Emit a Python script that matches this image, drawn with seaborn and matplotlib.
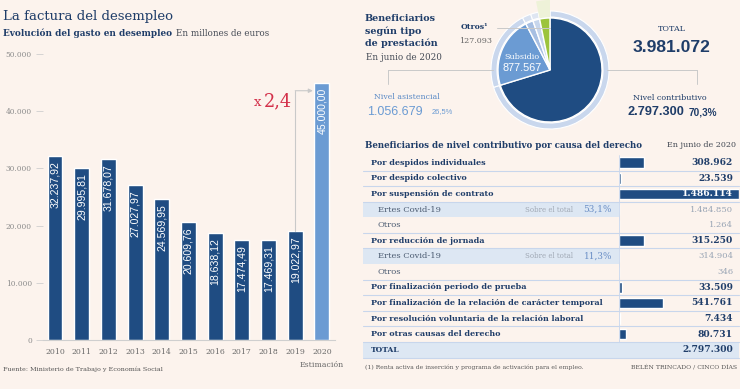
"""La factura del desempleo: gasto anual y beneficiarios por tipo de prestación."""

import numpy as np
import pandas as pd
import seaborn as sns
import matplotlib.pyplot as plt
from matplotlib.patches import Rectangle

# ===================== DATOS =====================
anios = ["2010", "2011", "2012", "2013", "2014", "2015", "2016", "2017", "2018", "2019", "2020"]
gasto = [32237.92, 29995.81, 31678.07, 27027.97, 24569.95, 20609.76,
         18638.12, 17474.49, 17469.31, 19022.97, 45000.00]
y_ticks = [0, 10000, 20000, 30000, 40000, 50000]

# tarta: contributivo, subsidio, resto asistencial (2 trozos estimados), otros
tarta_nombres = ["Nivel contributivo", "Subsidio", "Asistencial A", "Asistencial B", "Otros"]
tarta_valores = [2797300, 877567, 95000, 84112, 127093]
total_benef = 3981072
asistencial = 1056679

filas = ["Por despidos individuales", "Por despido colectivo", "Por suspensión de contrato",
         "Ertes Covid-19", "Otros", "Por reducción de jornada", "Ertes Covid-19", "Otros",
         "Por finalización periodo de prueba",
         "Por finalización de la relación de carácter temporal",
         "Por resolución voluntaria de la relación laboral",
         "Por otras causas del derecho", "TOTAL"]
valores = [308962, 23539, 1486114, 1484850, 1264, 315250, 314904, 346,
           33509, 541761, 7434, 80731, 2797300]
tipo = ["main", "main", "main", "sub", "sub2", "main", "sub", "sub2",
        "main", "main", "main", "main", "total"]
sobre_total = {3: "53,1%", 6: "11,3%"}

# ===================== ESTILO =====================
BG = "#fcf3ed"
AZUL = "#1f4c82"
AZUL_CLARO = "#6b9bd3"
TITULO = "#1f3d69"
GRIS = "#8b8b8b"
ROJO = "#d3304a"
SOMBRA = "#dde7f3"
LINEA = "#c8d6ec"
SERIF = "DejaVu Serif"
SANS = "Liberation Sans"

sns.set_theme(style="white")
plt.rcParams["font.family"] = [SERIF, "DejaVu Sans"]


def es(v, dec=0):
    s = f"{v:,.{dec}f}"
    return s.replace(",", "#").replace(".", ",").replace("#", ".")


def caja(x0, y0, x1, y1):
    """Rectángulo en píxeles -> coordenadas de figura."""
    return [x0 / 740, 1 - y1 / 389, (x1 - x0) / 740, (y1 - y0) / 389]


fig = plt.figure(figsize=(7.4, 3.89), dpi=100, facecolor=BG)

# ===================== BARRAS GASTO =====================
ax = fig.add_axes(caja(43, 54, 335, 340))
ax.set_facecolor("none")
df = pd.DataFrame({"anio": anios, "gasto": gasto})
colores = [AZUL] * 10 + [AZUL_CLARO]
sns.barplot(data=df, x="anio", y="gasto", hue="anio", palette=colores,
            legend=False, width=0.56, saturation=1, ax=ax)
ax.set_ylim(0, 50000)
ax.set_xlim(-0.45, 10.49)
ax.set_yticks(y_ticks)
ax.set_yticklabels([es(t) for t in y_ticks])
ax.set_xlabel("")
ax.set_ylabel("")
for s in ["top", "right", "left"]:
    ax.spines[s].set_visible(False)
ax.spines["bottom"].set_color("#cfcfcf")
ax.spines["bottom"].set_linewidth(0.8)
ax.tick_params(axis="y", length=5, width=0.6, color="#cfcfcf", labelsize=5.3,
               labelcolor=GRIS, pad=3, left=True)
ax.tick_params(axis="x", length=0, labelsize=5.6, labelcolor="#6b6b6b", pad=6)
for i, v in enumerate(gasto):
    ax.text(i, v - 900, es(v, 2), rotation=90, ha="center", va="top",
            color="white", fontsize=7.6, family=SANS)
ax.text(10, -4300, "Estimación", ha="center", va="center", fontsize=5.6,
        color="#6b6b6b", clip_on=False)
# flecha x2,4
y_flecha = 43580
ax.plot([9, 9], [gasto[9], y_flecha], color="#c9c9c9", lw=0.8)
ax.annotate("", xy=(9.66, y_flecha), xytext=(9, y_flecha),
            arrowprops=dict(arrowstyle="-|>", color="#c9c9c9", lw=0.8,
                            mutation_scale=6, shrinkA=0, shrinkB=0))

# ===================== TARTA =====================
axp = fig.add_axes(caja(480, 0, 620, 140))
axp.set_facecolor("none")
axp.pie(tarta_valores, radius=0.843, startangle=90, counterclock=False,
        colors=["#c9d7ed", "#c9d7ed", "#d6e0f0", "#dfe6f2", "none"],
        wedgeprops=dict(width=0.086, edgecolor="white", linewidth=0.8))
axp.pie(tarta_valores, radius=1.0, startangle=90, counterclock=False,
        colors=["none", "none", "none", "none", "#eef2d8"],
        wedgeprops=dict(width=0.25, linewidth=0))
axp.pie(tarta_valores, radius=0.743, startangle=90, counterclock=False,
        colors=[AZUL, AZUL_CLARO, "#a7bfe2", "#c7d6ec", "#9cc43c"],
        wedgeprops=dict(edgecolor="white", linewidth=1.0))
axp.set_xlim(-1, 1)
axp.set_ylim(-1, 1)
axp.set_aspect("equal")

# ===================== TABLA: BARRAS =====================
axb = fig.add_axes(caja(619, 155, 739, 357.5))
axb.set_facecolor("none")
df_t = pd.DataFrame({"fila": [str(i) for i in range(len(filas))],
                     "valor": [v if t == "main" else 0 for v, t in zip(valores, tipo)]})
sns.barplot(data=df_t, x="valor", y="fila", orient="h", color=AZUL, saturation=1,
            width=0.68, ax=axb)
axb.set_xlim(0, max(df_t["valor"]))
axb.set_ylim(len(filas) - 0.5, -0.5)
axb.axis("off")

# ===================== CAPA DE TEXTOS (encima, transparente) =====================
ov = fig.add_axes([0, 0, 1, 1], zorder=10)
ov.set_facecolor("none")
ov.set_xlim(0, 740)
ov.set_ylim(389, 0)
ov.axis("off")

# títulos
ov.text(3, 16, "La factura del desempleo", fontsize=9.5, color=TITULO, va="center")
ov.text(3, 33, "Evolución del gasto en desempleo", fontsize=6.4, color=TITULO,
        weight="bold", va="center")
ov.text(176, 33, "En millones de euros", fontsize=6.3, color="#444a55", va="center")
ov.text(3, 369, "Fuente: Ministerio de Trabajo y Economía Social", fontsize=4.6,
        color="#555555", va="center")
ov.text(292, 106, "2,4", ha="right", va="baseline", fontsize=12.8, color=ROJO)
ov.text(261, 106, "x", ha="right", va="baseline", fontsize=9.5, color=ROJO)

# bloque tarta
for j, t in enumerate(["Beneficiarios", "según tipo", "de prestación"]):
    ov.text(365, 18 + j * 12.8, t, fontsize=6.9, weight="bold", color=TITULO, va="center")
ov.text(366, 57, "En junio de 2020", fontsize=6.3, color="#444a55", va="center")
ov.text(488, 27, "Otros¹", fontsize=5.6, weight="bold", color=TITULO, va="center", ha="right")
ov.text(492, 41, es(tarta_valores[4]), fontsize=5.8, color="#666666", va="center", ha="right")
ov.plot([497, 550], [28, 28], color="#c9c9c9", lw=0.7)
ov.text(522, 57, "Subsidio", fontsize=5.8, color="white", ha="center", va="center")
ov.text(522, 68, es(tarta_valores[1]), fontsize=7.8, color="white", ha="center", va="center",
        family=SANS)
ov.plot([388, 493], [70, 70], color="#c9c9c9", lw=0.7)
ov.plot([388, 388], [70, 84], color="#c9c9c9", lw=0.7)
ov.plot([607, 697], [70, 70], color="#c9c9c9", lw=0.7)
ov.plot([697, 697], [70, 84], color="#c9c9c9", lw=0.7)
ov.text(407, 97, "Nivel asistencial", fontsize=5.6, color="#5b8ac6", ha="center", va="center")
ov.text(367, 112, es(asistencial), fontsize=9, color="#6b9bd3", va="center", family=SANS)
ov.text(432, 112, "26,5%", fontsize=5.4, color="#6b9bd3", va="center", family=SANS)
ov.text(672, 29, "TOTAL", fontsize=5.8, color=TITULO, ha="center", va="center")
ov.text(672, 47, es(total_benef), fontsize=12.6, color=TITULO, ha="center", va="center",
        family=SANS, weight="bold")
ov.text(670, 98, "Nivel contributivo", fontsize=5.8, color=TITULO, ha="center", va="center")
ov.text(628, 112, es(tarta_valores[0]), fontsize=9.2, color=TITULO, va="center",
        family=SANS, weight="bold")
ov.text(689, 112, "70,3%", fontsize=7.2, color=TITULO, va="center", family=SANS, weight="bold")

# tabla
ov.text(365, 145, "Beneficiarios de nivel contributivo por causa del derecho", fontsize=6.2,
        weight="bold", color=TITULO, va="center")
ov.text(736, 145, "En junio de 2020", fontsize=5.8, color="#444a55", va="center", ha="right")
y0, h = 155.0, (357.5 - 155.0) / len(filas)
for i, (f, v, t) in enumerate(zip(filas, valores, tipo)):
    yc = y0 + (i + 0.5) * h
    if t == "sub":
        ov.add_patch(Rectangle((363, y0 + i * h), 256, h, color=SOMBRA, lw=0, zorder=0))
    if t == "total":
        ov.add_patch(Rectangle((363, y0 + i * h), 376, h, color=SOMBRA, lw=0, zorder=0))
    if t in ("main", "total"):
        ov.text(371, yc, f, fontsize=5.75 if t == "main" else 5.4, weight="bold",
                color=TITULO, va="center")
        col = "white" if v == max(df_t["valor"]) else TITULO
        ov.text(733, yc, es(v), fontsize=6.6, weight="bold", color=col, va="center",
                ha="right")
    else:
        ov.text(378, yc, f, fontsize=6.0, color="#4a5a70", va="center")
        ov.text(733, yc, es(v), fontsize=6.0, color="#98a4b4", va="center", ha="right")
    if i in sobre_total:
        ov.text(573, yc, "Sobre el total", fontsize=5.0, color="#a0a8b4", va="center", ha="right")
        ov.text(612, yc, sobre_total[i], fontsize=6.4, color="#6b8fc6", va="center", ha="right")
    if t != "sub":
        ov.plot([363, 739], [y0 + (i + 1) * h] * 2, color=LINEA, lw=0.8, zorder=0.5)
ov.plot([619, 619], [y0, y0 + 12 * h], color=LINEA, lw=0.6, zorder=0.5)

ov.text(365, 367, "(1) Renta activa de inserción y programa de activación para el empleo.",
        fontsize=4.4, color="#555555", va="center")
ov.text(737, 367, "BELÉN TRINCADO / CINCO DÍAS", fontsize=4.4, color="#555555",
        va="center", ha="right")

fig.savefig("out.png", dpi=100, facecolor=BG)
